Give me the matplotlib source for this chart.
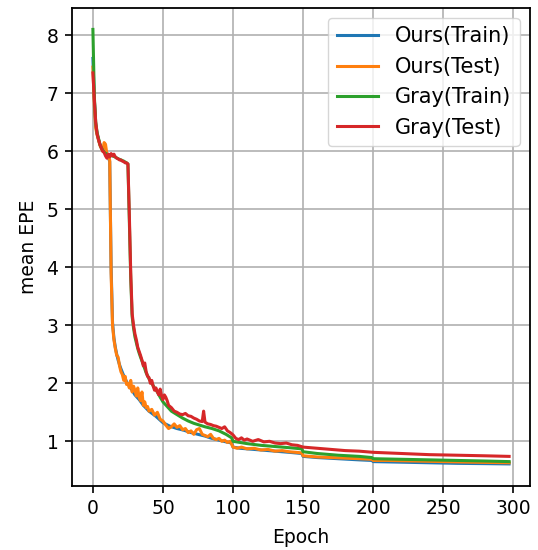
import numpy as np
import matplotlib
matplotlib.use('Agg')
import matplotlib.pyplot as plt

# values (epoch, mean EPE)
ours_train_ep = [0, 1, 2, 3, 4, 5, 6, 7, 8, 9, 10, 11, 12, 13, 14, 15, 16, 17, 18, 19, 20,
                 22, 24, 26, 28, 30, 33, 36, 40, 45, 50, 55, 60, 65, 70, 75, 80, 85, 90, 95, 99,
                 100, 105, 110, 120, 130, 140, 149, 150, 160, 175, 190, 199, 200, 220, 240, 260, 280, 297]
ours_train = [7.6, 6.9, 6.45, 6.3, 6.2, 6.12, 6.06, 6.02, 6.0, 5.97, 5.93, 5.9, 5.82, 4.0, 3.05, 2.78, 2.62, 2.5, 2.4, 2.32, 2.25,
              2.13, 2.03, 1.95, 1.88, 1.8, 1.72, 1.62, 1.52, 1.43, 1.32, 1.26, 1.22, 1.19, 1.15, 1.12, 1.09, 1.05, 1.02, 0.99, 0.97,
              0.9, 0.88, 0.87, 0.85, 0.83, 0.81, 0.79, 0.74, 0.72, 0.70, 0.68, 0.67, 0.65, 0.64, 0.63, 0.62, 0.615, 0.61]

ours_test_ep = [0, 1, 2, 3, 4, 5, 6, 7, 8, 9, 10, 11, 12, 13, 14, 15, 16, 17, 18, 19, 20,
                21, 22, 23, 24, 25, 26, 27, 28, 29, 30, 31, 32, 33, 34, 35, 36, 37, 38, 39, 40,
                42, 44, 46, 48, 50, 52, 54, 56, 58, 60, 62, 64, 66, 68, 70, 72, 74, 76, 78, 80,
                82, 84, 86, 88, 90, 92, 94, 96, 98, 100, 103, 106, 110, 115, 120, 125, 130, 135, 140, 145,
                149, 150, 155, 160, 170, 180, 190, 199, 200, 210, 230, 250, 270, 297]
ours_test = [7.45, 6.8, 6.4, 6.28, 6.2, 6.1, 6.05, 6.0, 6.15, 6.12, 5.95, 5.9, 5.85, 3.9, 3.0, 2.75, 2.6, 2.48, 2.45, 2.3, 2.2,
             2.15, 2.05, 2.12, 1.98, 2.0, 1.92, 2.05, 1.85, 1.95, 1.88, 1.78, 1.92, 1.75, 1.7, 1.85, 1.62, 1.68, 1.58, 1.6, 1.52,
             1.55, 1.45, 1.5, 1.38, 1.35, 1.28, 1.22, 1.25, 1.3, 1.24, 1.27, 1.2, 1.22, 1.15, 1.18, 1.12, 1.2, 1.22, 1.12, 1.1,
             1.08, 1.12, 1.05, 1.03, 1.05, 1.0, 1.02, 0.98, 1.0, 0.9, 0.88, 0.9, 0.87, 0.88, 0.85, 0.86, 0.83, 0.84, 0.82, 0.81,
             0.8, 0.75, 0.74, 0.73, 0.72, 0.71, 0.70, 0.69, 0.67, 0.67, 0.66, 0.65, 0.64, 0.63]

gray_train_ep = [0, 1, 2, 3, 4, 5, 6, 7, 8, 10, 12, 14, 16, 18, 20, 22, 24, 25, 26, 27, 28,
                 29, 30, 31, 32, 33, 34, 36, 38, 40, 42, 44, 46, 48, 50, 53, 56, 60, 64, 68, 72,
                 76, 80, 85, 90, 95, 99, 100, 105, 110, 120, 130, 140, 149, 150, 160, 175, 190, 199, 200,
                 220, 240, 260, 280, 297]
gray_train = [8.1, 6.95, 6.5, 6.32, 6.22, 6.12, 6.06, 6.02, 5.98, 5.95, 5.93, 5.92, 5.9, 5.87, 5.85, 5.83, 5.8, 5.78, 4.8, 3.8, 3.15,
              2.95, 2.8, 2.7, 2.6, 2.52, 2.45, 2.32, 2.18, 2.08, 2.0, 1.92, 1.85, 1.76, 1.68, 1.6, 1.52, 1.46, 1.4, 1.35, 1.31,
              1.28, 1.25, 1.22, 1.18, 1.12, 1.06, 1.0, 0.98, 0.96, 0.93, 0.91, 0.89, 0.87, 0.82, 0.79, 0.76, 0.74, 0.72, 0.70,
              0.69, 0.68, 0.67, 0.66, 0.65]

gray_test_ep = [0, 1, 2, 3, 4, 5, 6, 7, 8, 9, 10, 11, 12, 13, 14, 15, 16, 17, 18, 19, 20,
                21, 22, 23, 24, 25, 26, 27, 28, 29, 30, 31, 32, 33, 34, 35, 36, 37, 38, 39, 40,
                41, 42, 43, 44, 45, 46, 47, 48, 49, 50, 51, 52, 53, 54, 56, 58, 60, 62, 64, 66,
                68, 70, 72, 74, 76, 78, 79, 80, 82, 84, 86, 88, 90, 92, 94, 96, 98, 100, 102, 104,
                106, 108, 110, 114, 118, 122, 126, 130, 134, 138, 142, 146, 150, 155, 160, 170, 180, 190, 200,
                220, 240, 260, 280, 297]
gray_test = [7.35, 6.9, 6.5, 6.3, 6.2, 6.12, 6.06, 6.0, 5.98, 5.92, 5.88, 5.95, 5.9, 5.96, 5.92, 5.95, 5.9, 5.88, 5.87, 5.85, 5.85,
             5.83, 5.82, 5.8, 5.8, 5.78, 4.9, 3.9, 3.2, 3.0, 2.85, 2.75, 2.62, 2.55, 2.48, 2.4, 2.3, 2.35, 2.2, 2.12, 2.1,
             2.0, 2.05, 1.95, 1.88, 1.92, 1.85, 1.8, 1.9, 1.78, 1.72, 1.8, 1.76, 1.7, 1.62, 1.58, 1.52, 1.5, 1.47, 1.46, 1.48,
             1.44, 1.43, 1.4, 1.38, 1.35, 1.34, 1.52, 1.33, 1.3, 1.29, 1.27, 1.26, 1.24, 1.22, 1.25, 1.18, 1.15, 1.11, 1.05, 1.03,
             1.06, 1.02, 1.04, 1.0, 1.03, 0.99, 1.0, 0.97, 0.96, 0.97, 0.94, 0.93, 0.9, 0.89, 0.88, 0.86, 0.84, 0.83, 0.81,
             0.79, 0.77, 0.76, 0.75, 0.74]

fig = plt.figure(figsize=(5.38, 5.5), dpi=100)
ax = fig.add_axes([0.134, 0.117, 0.851, 0.869])

ax.plot(ours_train_ep, ours_train, color='tab:blue', lw=2.2, label='Ours(Train)')
ax.plot(ours_test_ep, ours_test, color='tab:orange', lw=2.2, label='Ours(Test)')
ax.plot(gray_train_ep, gray_train, color='tab:green', lw=2.2, label='Gray(Train)')
ax.plot(gray_test_ep, gray_test, color='tab:red', lw=2.2, label='Gray(Test)')

ax.set_xticks(np.arange(0, 301, 50))
ax.set_yticks(np.arange(1, 9, 1))
ax.tick_params(labelsize=13.5, length=4.8, width=1.2, pad=5)
for s in ax.spines.values():
    s.set_linewidth(1.3)
ax.grid(True, color='#b0b0b0', lw=1.2)
ax.set_xlabel('Epoch', fontsize=13.5, labelpad=7)
ax.set_ylabel('mean EPE', fontsize=13.5, labelpad=6)
ax.legend(loc='upper right', fontsize=15)

plt.savefig('out.png', dpi=100)
